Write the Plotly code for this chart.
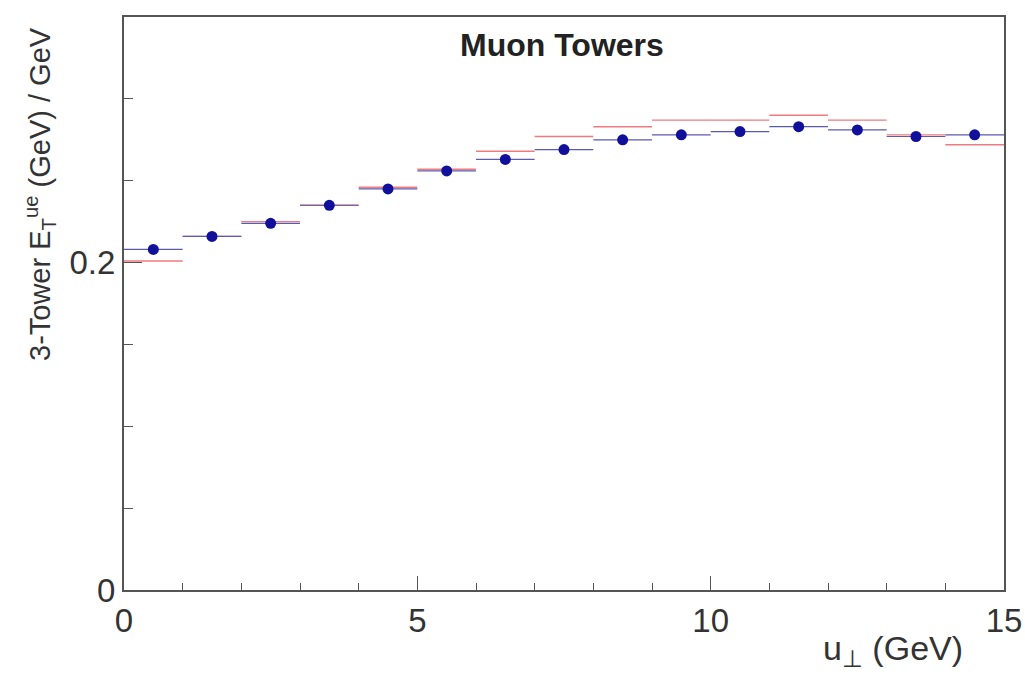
import numpy as np
import plotly.graph_objects as go

# bin centres of u_perp (GeV), bin width 1 GeV
bin_centres = [0.5, 1.5, 2.5, 3.5, 4.5, 5.5, 6.5, 7.5, 8.5, 9.5, 10.5, 11.5, 12.5, 13.5, 14.5]

# data points (blue)
data_vals = [0.208, 0.216, 0.224, 0.235, 0.245, 0.256, 0.263, 0.269,
             0.275, 0.278, 0.280, 0.283, 0.281, 0.277, 0.278]

# reference histogram (red)
hist_vals = [0.201, 0.216, 0.225, 0.235, 0.246, 0.257, 0.268, 0.277,
             0.283, 0.287, 0.287, 0.290, 0.287, 0.278, 0.272]

FONT = "Liberation Sans, Arial"

fig = go.Figure()

# red histogram, drawn as flat bin segments
fig.add_trace(go.Scatter(
    x=bin_centres,
    y=hist_vals,
    mode="markers",
    marker=dict(size=0.1, color="rgba(0,0,0,0)"),
    error_x=dict(type="constant", value=0.5, color="#f07a80", thickness=1.4, width=0),
    showlegend=False,
))

# blue points with bin-width x errors
fig.add_trace(go.Scatter(
    x=bin_centres,
    y=data_vals,
    mode="markers",
    marker=dict(color="#10109a", size=11),
    error_x=dict(type="constant", value=0.5, color="#5a5ab0", thickness=1.2, width=0),
    showlegend=False,
))

fig.update_xaxes(
    range=[0, 15],
    tickvals=[0, 5, 10, 15],
    ticks="inside", ticklen=14, tickwidth=1, tickcolor="#555",
    minor=dict(tickvals=list(range(0, 16)), ticks="inside", ticklen=7, tickcolor="#555"),
    showline=True, linecolor="#555", linewidth=2, mirror=True,
    showgrid=False, zeroline=False, automargin=False,
    tickfont=dict(size=33, color="#333", family=FONT),
)
fig.update_yaxes(
    range=[0, 0.35],
    tickvals=[0, 0.2],
    ticktext=["0", "0.2"],
    ticks="inside", ticklen=18, tickwidth=1, tickcolor="#555",
    minor=dict(tickvals=[0.05, 0.1, 0.15, 0.25, 0.3], ticks="inside", ticklen=9, tickcolor="#555"),
    showline=True, linecolor="#555", linewidth=2, mirror=True,
    showgrid=False, zeroline=False, automargin=False,
    tickfont=dict(size=33, color="#333", family=FONT),
)

fig.update_layout(
    width=1025, height=680,
    margin=dict(l=124, r=21, t=17, b=90, autoexpand=False),
    plot_bgcolor="white", paper_bgcolor="white",
    annotations=[
        dict(text="<b>Muon Towers</b>", x=0.498, y=0.951, xref="paper", yref="paper",
             xanchor="center", yanchor="middle", showarrow=False,
             font=dict(size=32, color="#222", family=FONT)),
        dict(text="u<sub>⊥</sub> (GeV)", x=0.956, y=-0.106, xref="paper", yref="paper",
             xanchor="right", yanchor="middle", showarrow=False,
             font=dict(size=34, color="#333", family=FONT)),
        dict(text="3-Tower E<sub>T</sub><sup>ue</sup> (GeV) / GeV", x=-0.0955, y=0.986,
             xref="paper", yref="paper", xanchor="center", yanchor="top",
             textangle=-90, showarrow=False,
             font=dict(size=29, color="#333", family=FONT)),
    ],
)

# drop the default page margin so the figure fills the window exactly
fig.write_html(
    "out.html",
    config={"displayModeBar": False},
    post_script="document.body.style.margin='0';document.body.style.overflow='hidden';",
)
